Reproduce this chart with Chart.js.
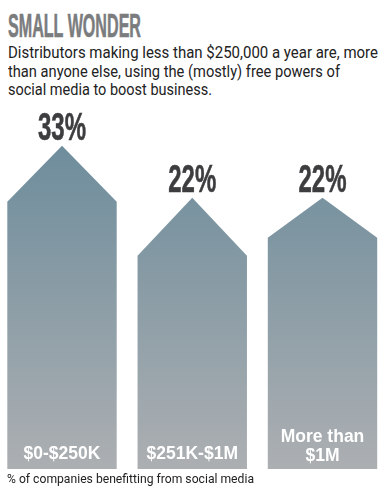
<!DOCTYPE html>
<html>
<head>
<meta charset="utf-8">
<script src="https://cdn.jsdelivr.net/npm/chart.js@4"></script>
<style>
  html, body { margin: 0; padding: 0; background: #fff; }
  #page { position: relative; width: 388px; height: 495px; overflow: hidden; }
  .fit { position: absolute; transform-origin: 0 0; white-space: nowrap; }
  #title {
    left: 8px; top: 8.5px;
    font-family: "Liberation Sans", sans-serif; font-weight: bold;
    font-size: 33px; line-height: 33px; color: #7b7c7e;
    -webkit-text-stroke: 0.6px #7b7c7e;
  }
  .sub {
    left: 8px;
    font-family: Roboto, sans-serif;
    font-size: 16.5px; line-height: 18.5px; color: #222;
  }
  #note {
    left: 7px; top: 469.5px;
    font-family: Roboto, sans-serif;
    font-size: 13.5px; line-height: 16px; color: #222;
  }
  #myChart { position: absolute; left: 0; top: 100px; }
</style>
</head>
<body>
<div id="page">
  <div id="title" class="fit" data-w="133">SMALL WONDER</div>
  <div class="sub fit" style="top:44px" data-w="370">Distributors making less than $250,000 a year are, more</div>
  <div class="sub fit" style="top:62.5px" data-w="332">than anyone else, using the (mostly) free powers of</div>
  <div class="sub fit" style="top:81px" data-w="204">social media to boost business.</div>
  <canvas id="myChart" width="388" height="372"></canvas>
  <div id="note" class="fit" data-w="247">% of companies benefitting from social media</div>
</div>
<script>
// revenue groups
var labels = ['$0-$250K', '$251K-$1M', ['More than', '$1M']];
// % of companies benefitting from social media
var values = [33, 22, 22];
var valueLabels = ['33%', '22%', '22%'];

// how far down the shoulders of each arrow sit (px)
var roofDrop = [56, 58, 40];

var yMin = -35.5;
var yMax = 41;

// squeeze the html texts so they take the same width as in the print version
document.querySelectorAll('.fit').forEach(function(el){
    let w = el.getBoundingClientRect().width;
    el.style.transform = 'scaleX(' + (el.dataset.w / w) + ')';
});

var ctx = document.getElementById('myChart');

//draws the arrow shaped bars and their texts
const arrowPlugin = {
    id: 'arrows',
    afterDatasetsDraw(chart) {
        let c = chart.ctx;
        let meta = chart.getDatasetMeta(0);
        let bottom = chart.chartArea.bottom;
        let top = chart.scales.y.getPixelForValue(Math.max.apply(null, values));
        let grad = c.createLinearGradient(0, top, 0, bottom);
        grad.addColorStop(0, '#6e8d9c');
        grad.addColorStop(1, '#acafb2');

        c.save();
        for (var i = 0; i < meta.data.length; i++) {
            let bar = meta.data[i];
            let half = bar.width / 2;
            c.beginPath();
            c.moveTo(bar.x - half, bottom);
            c.lineTo(bar.x - half, bar.y + roofDrop[i]);
            c.lineTo(bar.x, bar.y);
            c.lineTo(bar.x + half, bar.y + roofDrop[i]);
            c.lineTo(bar.x + half, bottom);
            c.closePath();
            c.fillStyle = grad;
            c.fill();

            // value above the tip, condensed to ~48px wide
            c.save();
            c.font = 'bold 39px "Liberation Sans"';
            let sx = 48 / c.measureText(valueLabels[i]).width;
            c.translate(bar.x, bar.y - 5.5);
            c.scale(sx, 1);
            c.fillStyle = '#3d3d3f';
            c.strokeStyle = '#3d3d3f';
            c.lineWidth = 0.6;
            c.textAlign = 'center';
            c.textBaseline = 'alphabetic';
            c.fillText(valueLabels[i], 0, 0);
            c.strokeText(valueLabels[i], 0, 0);
            c.restore();

            // category inside the bottom of the bar
            let lines = Array.isArray(labels[i]) ? labels[i] : [labels[i]];
            c.font = 'bold 17.5px "Liberation Sans"';
            c.fillStyle = '#ffffff';
            c.textAlign = 'center';
            c.textBaseline = 'alphabetic';
            for (var j = 0; j < lines.length; j++) {
                let yy = bottom - 8 - (lines.length - 1 - j) * 19;
                if (lines.length == 1) yy = bottom - 10;
                c.fillText(lines[j], bar.x, yy);
            }
        }
        c.restore();
    }
};

var chart = new Chart(ctx, {
    type: 'bar',
    data: {
        labels: labels,
        datasets: [{
            data: values,
            base: yMin,
            backgroundColor: 'rgba(0,0,0,0)',
            barPercentage: 0.84,
            categoryPercentage: 1
        }]
    },
    options: {
        responsive: false,
        animation: false,
        layout: { padding: { left: 62, right: 65.5, top: 8, bottom: 3 } },
        plugins: { legend: { display: false }, tooltip: { enabled: false } },
        scales: {
            x: { display: false, offset: false },
            y: { display: false, min: yMin, max: yMax }
        }
    },
    plugins: [arrowPlugin]
});
</script>
</body>
</html>
